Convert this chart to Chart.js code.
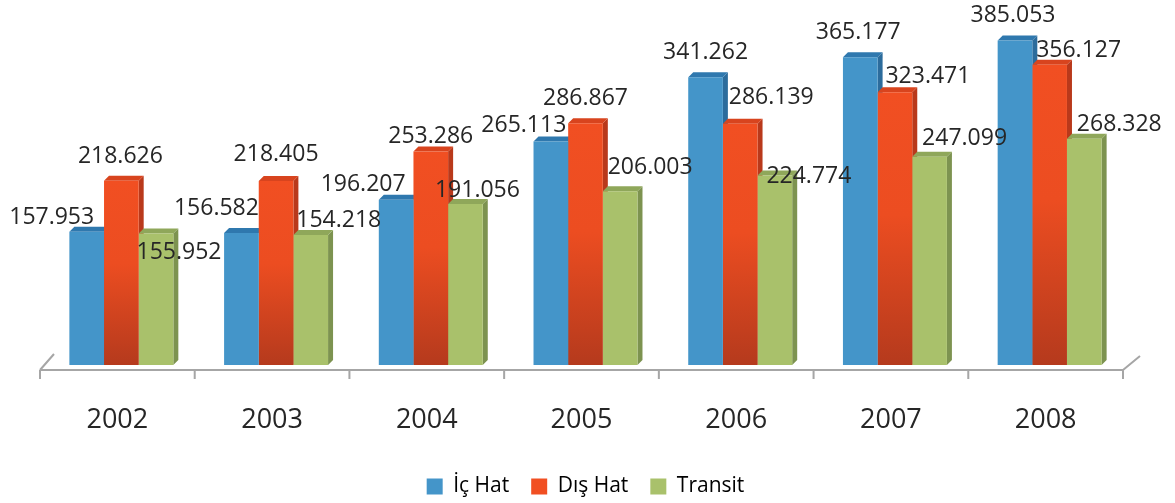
<!doctype html>
<html>
<head>
	<meta charset="utf-8">
	<title>Hat Trafiği</title>
	<script src="https://cdn.jsdelivr.net/npm/chart.js@4.4.1/dist/chart.umd.min.js"></script>
	<style>
		html, body {
			margin: 0;
			padding: 0;
			background: #FFF;
		}
		.chart-box {
			width: 1175px;
			height: 503px;
		}
	</style>
</head>
<body>
	<div class="chart-box">
		<canvas id="HatChart" width="1175" height="503"></canvas>
	</div>
	<script>
		// data
		var years = ["2002", "2003", "2004", "2005", "2006", "2007", "2008"];
		var seriesNames = ["İç Hat", "Dış Hat", "Transit"];
		var icHat = [157.953, 156.582, 196.207, 265.113, 341.262, 365.177, 385.053];
		var disHat = [218.626, 218.405, 253.286, 286.867, 286.139, 323.471, 356.127];
		var transit = [155.952, 154.218, 191.056, 206.003, 224.774, 247.099, 268.328];

		// colours: front, top face, side face
		var frontColors = ["#4495C9", "#F14F22", "#A9C16B"];
		var topColors = ["#2F78AE", "#D8441E", "#8FA75A"];
		var sideColors = ["#2C6C9C", "#B9391B", "#7D9350"];
		var depth = 5;
		// the 3d bars sit a bit right of the floor in the original
		var floorShift = 4;

		// where excel dropped each value label, relative to the bar top (dx, dy)
		var labelNudge = [
			[[-35, -14], [-25, -25], [-33, -15], [-27, -16], [0, -25], [-2, -25], [-2, -25]],
			[[-1, -24], [0, -26], [0, -15], [0, -25], [31, -26], [33, -16], [29, -14]],
			[[23, 19], [28, -15], [12, -14], [30, -24], [34, 1], [35, -18], [35, -14]]
		];

		function redGradient(ctx) {
			var chart = ctx.chart;
			if (!chart.chartArea || ctx.raw === undefined) return frontColors[1];
			var yScale = chart.scales.y;
			var top = yScale.getPixelForValue(ctx.raw);
			var bottom = yScale.getPixelForValue(0);
			var g = chart.ctx.createLinearGradient(0, top, 0, bottom);
			g.addColorStop(0, "#F14F22");
			g.addColorStop(0.45, "#EC4D21");
			g.addColorStop(1, "#B53A1D");
			return g;
		}

		// side and top faces go under every front face, so the bar to the right hides what it should
		var faces = {
			id: "faces",
			beforeDatasetsDraw: function(chart) {
				var c = chart.ctx;
				chart.data.datasets.forEach(function(ds, i) {
					chart.getDatasetMeta(i).data.forEach(function(bar) {
						var left = bar.x - bar.width / 2;
						var right = bar.x + bar.width / 2;
						c.save();
						c.fillStyle = sideColors[i];
						c.beginPath();
						c.moveTo(right, bar.y);
						c.lineTo(right + depth, bar.y - depth);
						c.lineTo(right + depth, bar.base - depth);
						c.lineTo(right, bar.base);
						c.closePath();
						c.fill();
						c.fillStyle = topColors[i];
						c.beginPath();
						c.moveTo(left, bar.y);
						c.lineTo(left + depth, bar.y - depth);
						c.lineTo(right + depth, bar.y - depth);
						c.lineTo(right, bar.y);
						c.closePath();
						c.fill();
						c.restore();
					});
				});
			}
		};

		// floor line with its ticks and the little 3d corners
		var floor = {
			id: "floor",
			beforeDatasetsDraw: function(chart) {
				var c = chart.ctx;
				var a = chart.chartArea;
				var y = a.bottom + 5;
				var x0 = a.left - floorShift;
				var x1 = a.right - floorShift;
				var step = (x1 - x0) / years.length;
				c.save();
				c.strokeStyle = "#A6A6A6";
				c.lineWidth = 2;
				c.beginPath();
				c.moveTo(x0, y);
				c.lineTo(x1, y);
				for (var k = 0; k <= years.length; k++) {
					c.moveTo(x0 + k * step, y);
					c.lineTo(x0 + k * step, y + 9);
				}
				c.moveTo(x0, y);
				c.lineTo(x0 + 14, y - 16);
				c.moveTo(x1, y);
				c.lineTo(x1 + 17, y - 14);
				c.stroke();
				c.restore();
			}
		};

		var valueLabels = {
			id: "valueLabels",
			afterDatasetsDraw: function(chart) {
				var c = chart.ctx;
				c.save();
				c.font = "23px 'Open Sans'";
				c.fillStyle = "#262626";
				c.textAlign = "center";
				c.textBaseline = "middle";
				chart.data.datasets.forEach(function(ds, i) {
					chart.getDatasetMeta(i).data.forEach(function(bar, j) {
						var n = labelNudge[i][j];
						c.fillText(ds.data[j].toFixed(3), bar.x + n[0], bar.y + n[1]);
					});
				});
				c.restore();
			}
		};

		new Chart("HatChart", {
			type: "bar",
			data: {
				labels: years,
				datasets: [
					{
						label: seriesNames[0],
						data: icHat,
						backgroundColor: frontColors[0]
					},
					{
						label: seriesNames[1],
						data: disHat,
						backgroundColor: redGradient
					},
					{
						label: seriesNames[2],
						data: transit,
						backgroundColor: frontColors[2]
					}
				]
			},
			options: {
				responsive: false,
				animation: false,
				categoryPercentage: 0.672,
				barPercentage: 1.0,
				layout: {
					padding: {
						top: 11,
						left: 44,
						right: 48,
						bottom: -4
					}
				},
				plugins: {
					tooltip: { enabled: false },
					legend: {
						position: "bottom",
						labels: {
							font: { family: "'Open Sans'", size: 21 },
							color: "#262626",
							boxWidth: 16,
							boxHeight: 16,
							padding: 22,
							generateLabels: function(chart) {
								return chart.data.datasets.map(function(ds, i) {
									return {
										text: ds.label,
										fillStyle: frontColors[i],
										strokeStyle: frontColors[i],
										lineWidth: 0,
										hidden: false,
										datasetIndex: i
									};
								});
							}
						}
					}
				},
				scales: {
					y: {
						display: false,
						min: 0,
						max: 420
					},
					x: {
						grid: {
							display: false,
							drawTicks: false
						},
						border: { display: false },
						ticks: {
							padding: 39,
							labelOffset: -4,
							color: "#262626",
							font: { family: "'Open Sans'", size: 27 }
						},
						afterFit: function(scale) {
							scale.height = 89;
						}
					}
				}
			},
			plugins: [floor, faces, valueLabels]
		});
	</script>
</body>
</html>
